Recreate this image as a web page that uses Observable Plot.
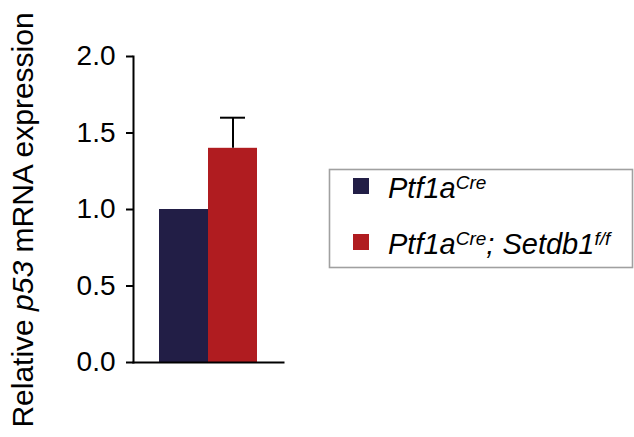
<!DOCTYPE html>
<html>
<head>
<meta charset="utf-8">
<script src="https://cdn.jsdelivr.net/npm/d3@7"></script>
<script src="https://cdn.jsdelivr.net/npm/@observablehq/plot@0.6"></script>
<style>
  html, body { margin: 0; padding: 0; background: #fff; }
  #chart { width: 634px; height: 437px; position: relative; }
</style>
</head>
<body>
<div id="chart"></div>
<script>
// ---- data ----
const groups = ["Ptf1aCre", "Ptf1aCre; Setdb1f/f"];
const means = [1.0, 1.4];
const upperErrors = [0, 0.2];
const colors = ["#221e46", "#b01c20"];
const yTicks = [0, 0.5, 1.0, 1.5, 2.0];

const data = groups.map((g, i) => ({group: g, mean: means[i], err: upperErrors[i]}));
const errData = data.filter(d => d.err > 0);

const font = "'Liberation Sans', Arial, Helvetica, sans-serif";

const plot = Plot.plot({
  width: 634,
  height: 437,
  marginTop: 56,
  marginBottom: 75,
  marginLeft: 133,
  marginRight: 351,
  style: {fontFamily: font, background: "#fff", color: "#000"},
  x: {domain: groups, paddingInner: 0, paddingOuter: 0.515, axis: null},
  y: {domain: [0, 2], axis: null},
  color: {domain: groups, range: colors},
  marks: [
    Plot.barY(data, {x: "group", y: "mean", fill: "group"}),
    Plot.ruleX(errData, {x: "group", y1: "mean", y2: d => d.mean + d.err, stroke: "#000", strokeWidth: 2}),
    Plot.tickY(errData, {x: "group", y: d => d.mean + d.err, stroke: "#000", strokeWidth: 2, insetLeft: 12, insetRight: 12}),
    Plot.axisY({ticks: yTicks, tickFormat: d => d.toFixed(1), tickSize: 7, tickPadding: 11, fontSize: 28, strokeWidth: 2, label: null}),
    Plot.frame({anchor: "left", strokeWidth: 2}),
    Plot.frame({anchor: "bottom", strokeWidth: 2})
  ]
});

document.getElementById("chart").appendChild(plot);

const svg = d3.select(plot);

// y-axis label with italic gene name
const yl = svg.append("text")
  .attr("transform", "translate(33,220) rotate(-90)")
  .attr("text-anchor", "middle")
  .attr("font-size", 30)
  .attr("font-family", font)
  .attr("fill", "#000");
yl.append("tspan").text("Relative ");
yl.append("tspan").attr("font-style", "italic").text("p53");
yl.append("tspan").text(" mRNA expression");

// legend
const lg = svg.append("g").attr("font-family", font).attr("text-anchor", "start");
lg.append("rect")
  .attr("x", 329.5).attr("y", 169.5).attr("width", 303).attr("height", 98)
  .attr("fill", "#fff").attr("stroke", "#a0a0a0").attr("stroke-width", 1.6);

const rows = [
  {y: 198, parts: [["Ptf1a", 0], ["Cre", 1]]},
  {y: 254, parts: [["Ptf1a", 0], ["Cre", 1], ["; Setdb1", 0], ["f/f", 1]]}
];
rows.forEach((r, i) => {
  lg.append("rect")
    .attr("x", 353).attr("y", r.y - 20).attr("width", 16).attr("height", 16)
    .attr("fill", colors[i]);
  const t = lg.append("text")
    .attr("x", 388).attr("y", r.y)
    .attr("text-anchor", "start")
    .attr("font-size", 29).attr("font-style", "italic").attr("fill", "#000");
  let raised = false;
  r.parts.forEach(([s, sup]) => {
    const ts = t.append("tspan").text(s);
    if (sup) {
      ts.attr("font-size", 19);
      if (!raised) { ts.attr("dy", -9); raised = true; }
    } else if (raised) { ts.attr("dy", 9); raised = false; }
  });
});
</script>
</body>
</html>
